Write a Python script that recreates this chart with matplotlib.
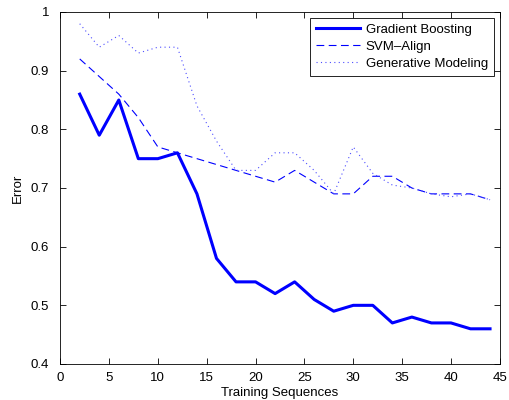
import matplotlib
matplotlib.use('Agg')
import matplotlib.pyplot as plt

# ---- DATA ---- #
seqs = [2, 4, 6, 8, 10, 12, 14, 16, 18, 20, 22, 24, 26, 28, 30, 32, 34, 36,
        38, 40, 42, 44]
gradient_boosting = [0.86, 0.79, 0.85, 0.75, 0.75, 0.76, 0.69, 0.58, 0.54,
                     0.54, 0.52, 0.54, 0.51, 0.49, 0.50, 0.50, 0.47, 0.48,
                     0.47, 0.47, 0.46, 0.46]
svm_align = [0.92, 0.89, 0.86, 0.82, 0.77, 0.76, 0.75, 0.74, 0.73, 0.72,
             0.71, 0.73, 0.71, 0.69, 0.69, 0.72, 0.72, 0.70, 0.69, 0.69,
             0.69, 0.68]
generative = [0.98, 0.94, 0.96, 0.93, 0.94, 0.94, 0.84, 0.78, 0.73, 0.73,
              0.76, 0.76, 0.73, 0.69, 0.77, 0.725, 0.705, 0.70, 0.69, 0.685,
              0.69, 0.68]

plt.rcParams['font.family'] = ['Liberation Sans', 'DejaVu Sans']
plt.rcParams['font.size'] = 9.5

# ---- PLOTTING ---- #
fig = plt.figure(figsize=(5.1, 4.0), dpi=100)
ax = fig.add_axes([0.118, 0.09, 0.862, 0.88])

ax.plot(seqs, gradient_boosting, color='blue', lw=2.2, ls='-',
        label='Gradient Boosting')
ax.plot(seqs, svm_align, color='blue', lw=0.8, ls=(0, (7, 4)),
        label='SVM\u2013Align')
ax.plot(seqs, generative, color='#4d4dff', lw=0.8, ls=(0, (1, 3)),
        label='Generative Modeling')

# ---- AXIS ---- #
ax.set_xlim(0, 45)
ax.set_ylim(0.4, 1.0)
ax.set_xticks(range(0, 46, 5))
ax.set_yticks([0.4, 0.5, 0.6, 0.7, 0.8, 0.9, 1.0])
ax.set_yticklabels(['0.4', '0.5', '0.6', '0.7', '0.8', '0.9', '1'])
ax.tick_params(direction='in', top=True, right=True, length=4, width=0.6,
               labelsize=9.5)
ax.tick_params(axis='x', pad=6)
ax.tick_params(axis='y', pad=8)
for sp in ax.spines.values():
    sp.set_linewidth(0.6)

# ---- LEGEND ---- #
leg = ax.legend(loc='upper right', fancybox=False, framealpha=1,
                edgecolor='black', fontsize=9.5, borderpad=0.45,
                labelspacing=0.35, handlelength=3.4, handletextpad=0.4,
                borderaxespad=0.45)
leg.get_frame().set_linewidth(0.6)

# ---- LABELS ---- #
ax.set_xlabel('Training Sequences', labelpad=2)
ax.set_ylabel('Error', labelpad=5)

fig.savefig('out.png', dpi=100)
